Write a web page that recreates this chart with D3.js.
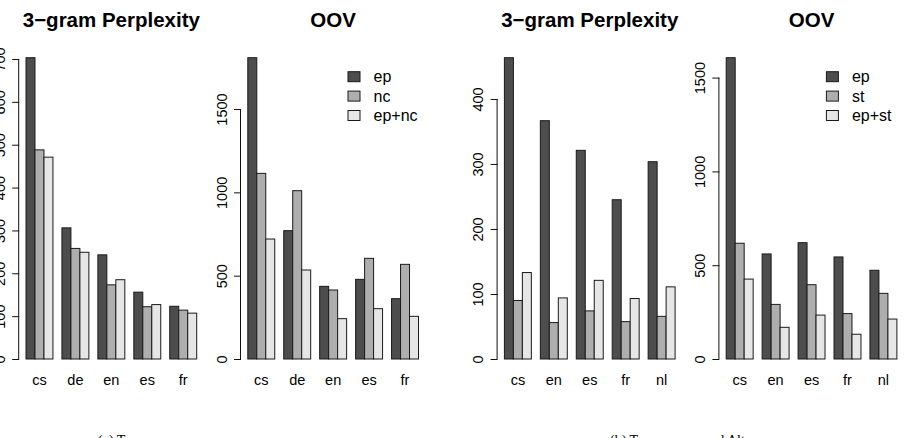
<!DOCTYPE html>
<html>
<head>
<meta charset="utf-8">
<script src="https://cdn.jsdelivr.net/npm/d3@7"></script>
<style>
  html, body { margin: 0; padding: 0; background: #fff; }
  svg { display: block; }
  text { font-family: "Liberation Sans", Arial, Helvetica, sans-serif; fill: #000; }
  .cap { font-family: "Liberation Serif", "Times New Roman", serif; }
</style>
</head>
<body>
<svg id="chart" width="904" height="438"></svg>
<script>
// ---------- data ----------
const catsA = ["cs", "de", "en", "es", "fr"];
const catsB = ["cs", "en", "es", "fr", "nl"];
const seriesA = ["ep", "nc", "ep+nc"];
const seriesB = ["ep", "st", "ep+st"];

const pplA_ep   = [703, 306, 243, 156, 123];
const pplA_nc   = [488, 258, 173, 122, 114];
const pplA_epnc = [471, 249, 185, 127, 107];

const oovA_ep   = [1808, 770, 436, 478, 362];
const oovA_nc   = [1114, 1010, 414, 604, 568];
const oovA_epnc = [720, 534, 242, 302, 256];

const pplB_ep   = [463.5, 366.6, 321, 245, 303.5];
const pplB_st   = [90, 56, 74, 57.5, 65.6];
const pplB_epst = [133, 94, 121, 93, 111];

const oovB_ep   = [1606, 560, 620, 544, 473];
const oovB_st   = [617, 291, 396, 242, 350];
const oovB_epst = [426, 169, 234, 132, 213];

const ticksPplA = [0, 100, 200, 300, 400, 500, 600, 700];
const ticksOovA = [0, 500, 1000, 1500];
const ticksPplB = [0, 100, 200, 300, 400];
const ticksOovB = [0, 500, 1000, 1500];

const titles = ["3\u2212gram Perplexity", "OOV", "3\u2212gram Perplexity", "OOV"];
const captions = ["(a) Two corpora", "(b) Two corpora and Alt"];

// ---------- styling / layout ----------
const fills = ["#4D4D4D", "#AEAEAE", "#E6E6E6"];
const svg = d3.select("#chart");

const panels = [
  { axisX: 19.2,  cats: catsA, series: seriesA, vals: [pplA_ep, pplA_nc, pplA_epnc], ticks: ticksPplA, title: titles[0], legend: false },
  { axisX: 241.0, cats: catsA, series: seriesA, vals: [oovA_ep, oovA_nc, oovA_epnc], ticks: ticksOovA, title: titles[1], legend: true },
  { axisX: 497.6, cats: catsB, series: seriesB, vals: [pplB_ep, pplB_st, pplB_epst], ticks: ticksPplB, title: titles[2], legend: false },
  { axisX: 719.4, cats: catsB, series: seriesB, vals: [oovB_ep, oovB_st, oovB_epst], ticks: ticksOovB, title: titles[3], legend: true }
];

const yBase = 359, yTop = 57.7;
const barsSpan = 170.7, inset = 6.8;

panels.forEach(p => {
  const g = svg.append("g");
  const x0 = p.axisX + inset, x1 = x0 + barsSpan;
  const xg = d3.scaleBand().domain(p.cats).range([x0, x1]).paddingInner(0.25).paddingOuter(0);
  const xs = d3.scaleBand().domain(p.series).range([0, xg.bandwidth()]).padding(0);
  const maxV = d3.max(p.vals.flat());
  const y = d3.scaleLinear().domain([0, maxV]).range([yBase, yTop]);

  // bars
  p.series.forEach((s, si) => {
    g.selectAll(null).data(p.cats).enter().append("rect")
      .attr("x", c => xg(c) + xs(s))
      .attr("y", (c, i) => y(p.vals[si][i]))
      .attr("width", xs.bandwidth())
      .attr("height", (c, i) => y(0) - y(p.vals[si][i]))
      .attr("fill", fills[si])
      .attr("stroke", "#1a1a1a")
      .attr("stroke-width", 1);
  });

  // y axis (R style)
  const yAxis = d3.axisLeft(y).tickValues(p.ticks).tickSize(7).tickPadding(7).tickFormat(d3.format("d"));
  const ag = g.append("g").attr("transform", `translate(${p.axisX},0)`).call(yAxis);
  ag.select(".domain").attr("d", `M-0.5,${y(p.ticks[0])}V${y(p.ticks[p.ticks.length - 1])}`)
    .attr("stroke", "#111").attr("stroke-width", 1).attr("fill", "none");
  ag.selectAll(".tick line").attr("stroke", "#111");
  ag.selectAll(".tick text")
    .attr("font-size", 14.5)
    .attr("font-family", "Liberation Sans, Arial, sans-serif")
    .attr("text-anchor", "middle")
    .attr("dy", 0)
    .attr("x", 0)
    .attr("transform", "translate(-14.5,0) rotate(-90)")
    .attr("fill", "#111");

  // category labels
  g.selectAll(null).data(p.cats).enter().append("text")
    .attr("x", c => xg(c) + xg.bandwidth() / 2)
    .attr("y", 385)
    .attr("text-anchor", "middle")
    .attr("font-size", 14.5)
    .text(c => c);

  // title
  g.append("text")
    .attr("x", (p.axisX + x1 + inset) / 2)
    .attr("y", 27)
    .attr("text-anchor", "middle")
    .attr("font-size", 20.5)
    .attr("font-weight", "bold")
    .text(p.title);

  // legend
  if (p.legend) {
    const lx = p.axisX + 107;
    p.series.forEach((s, si) => {
      const cy = 76.7 + si * 19.4;
      g.append("rect")
        .attr("x", lx).attr("y", cy - 5)
        .attr("width", 12).attr("height", 10)
        .attr("fill", fills[si]).attr("stroke", "#1a1a1a").attr("stroke-width", 1);
      g.append("text")
        .attr("x", lx + 25.5).attr("y", cy)
        .attr("dy", "0.36em")
        .attr("font-size", 16)
        .text(s);
    });
  }
});

// cropped captions at the very bottom
svg.append("text").attr("class", "cap").attr("x", 98).attr("y", 444.5).attr("font-size", 14).text(captions[0]);
svg.append("text").attr("class", "cap").attr("x", 610).attr("y", 444.5).attr("font-size", 14).text(captions[1]);
</script>
</body>
</html>
